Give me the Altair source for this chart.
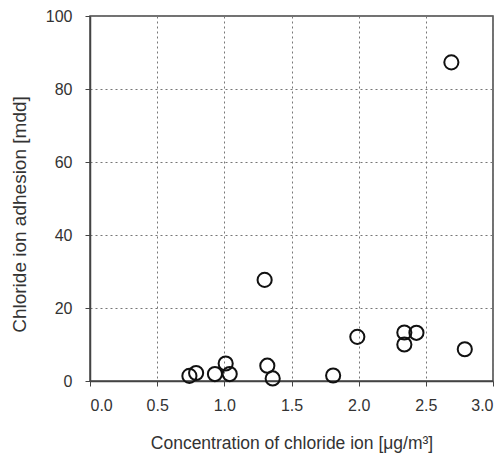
import altair as alt
import pandas as pd

conc = [0.74, 0.79, 0.93, 1.01, 1.04, 1.30, 1.32, 1.36, 1.81, 1.99, 2.34, 2.34, 2.43, 2.69, 2.79]
adhesion = [1.4, 2.2, 1.9, 4.8, 1.9, 27.7, 4.2, 0.7, 1.5, 12.1, 10.0, 13.3, 13.2, 87.3, 8.7]

df = pd.DataFrame({"conc": conc, "adh": adhesion})

FONT = "Liberation Sans"
TXT = "#333333"

chart = alt.Chart(df).mark_point(
    shape="circle", filled=False, size=200, strokeWidth=2, color="#111111", opacity=1
).encode(
    x=alt.X("conc:Q", scale=alt.Scale(domain=[0, 3], nice=False),
            axis=alt.Axis(title="Concentration of chloride ion [μg/m³]",
                          values=[0, 0.5, 1.0, 1.5, 2.0, 2.5, 3.0], format=".1f",
                          tickSize=5, labelPadding=11,
                          titleFontSize=17.5, titleBaseline="middle",
                          titleY=62)),
    y=alt.Y("adh:Q", scale=alt.Scale(domain=[0, 100], nice=False),
            axis=alt.Axis(title="Chloride ion adhesion [mdd]",
                          values=[0, 20, 40, 60, 80, 100],
                          tickSize=5, labelPadding=13,
                          titleFontSize=19, titleAngle=270,
                          titleBaseline="middle", titleAlign="center",
                          titleX=-71, titleY=198)),
).properties(
    width=403, height=365,
    autosize=alt.AutoSizeParams(type="none"),
    padding={"left": 90, "top": 16, "right": 11, "bottom": 75},
).configure_view(
    stroke="#444444", strokeWidth=1.5
).configure_axis(
    labelFont=FONT, titleFont=FONT, labelFontSize=16,
    labelColor=TXT, titleColor=TXT, titleFontWeight="normal",
    domainColor="#444444", domainWidth=1.5, tickColor="#444444",
    grid=True, gridColor="#777777", gridDash=[2, 3], gridWidth=1,
)

chart.save("out.html", embed_options={"renderer": "svg", "actions": False})
